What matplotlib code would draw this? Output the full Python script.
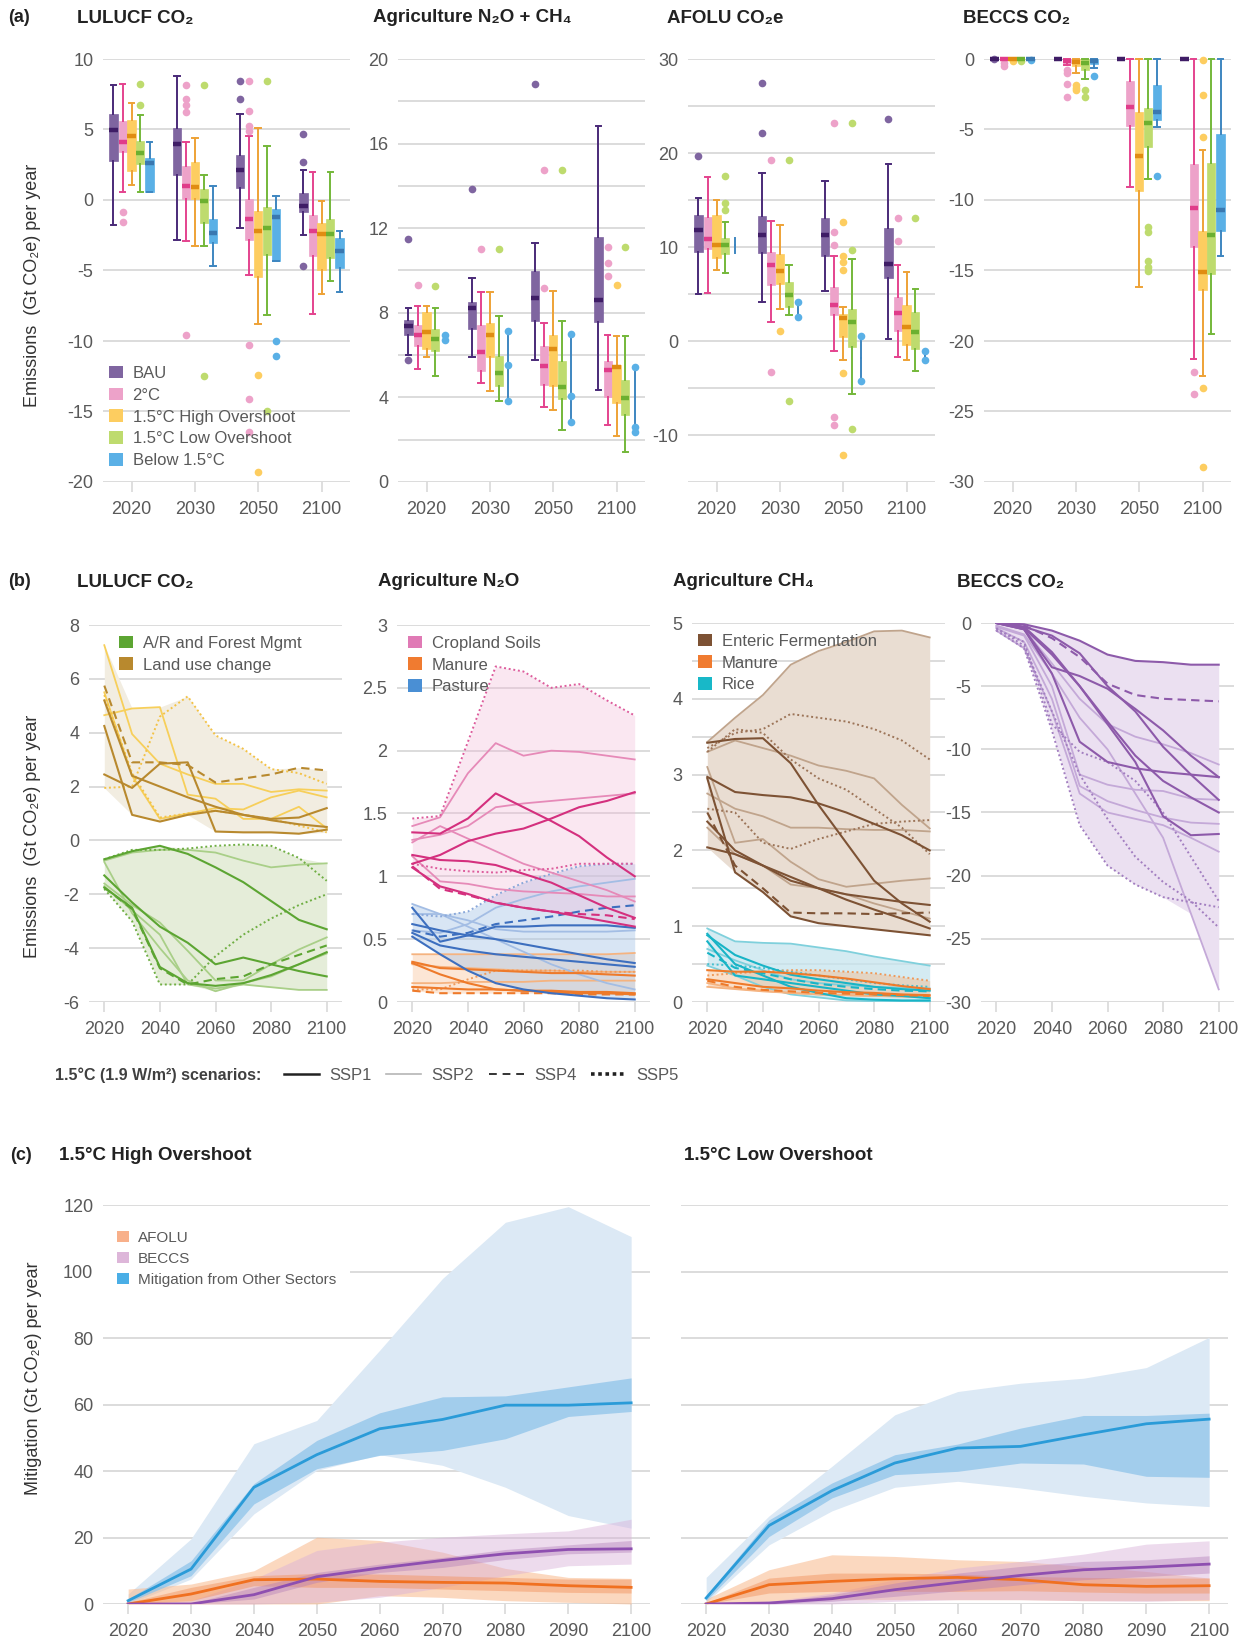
import numpy as np
import matplotlib
matplotlib.use("Agg")
import matplotlib.pyplot as plt
from matplotlib.patches import Patch
from matplotlib.lines import Line2D

plt.rcParams['font.family'] = ['Liberation Sans', 'DejaVu Sans']
plt.rcParams['axes.unicode_minus'] = False

# ---------------- (a) box plots ----------------
box_years = ['2020', '2030', '2050', '2100']
scen_names = ['BAU', '2°C', '1.5°C High Overshoot', '1.5°C Low Overshoot', 'Below 1.5°C']

# per scenario, per year: [low whisker, q1, median, q3, high whisker]
lulucf_stats = [
    [[-1.75, 2.74, 4.94, 6.1, 8.18], [-2.81, 1.8, 4.0, 5.11, 8.82], [-1.99, 0.85, 2.15, 3.21, 6.1], [-2.46, -0.85, -0.45, 0.5, 2.15]],
    [[0.57, 3.38, 4.09, 5.58, 8.2], [-2.93, 0.07, 1.02, 2.39, 4.09], [-5.3, -2.81, -1.32, 0.07, 4.52], [-8.06, -3.95, -2.22, -1.04, 1.96]],
    [[1.09, 2.08, 4.52, 5.7, 6.88], [-3.24, 0.07, 0.92, 2.7, 4.4], [-8.77, -5.48, -2.17, -0.8, 5.11], [-6.64, -4.99, -2.41, -1.63, -0.1]],
    [[0.57, 2.58, 3.33, 4.16, 6.05], [-3.24, -1.63, -0.1, 0.78, 1.8], [-8.13, -3.88, -1.99, -0.52, 3.81], [-5.77, -4.11, -2.41, -1.35, 1.96]],
    [[0.57, 0.57, 2.62, 2.98, 4.09], [-4.7, -3.05, -2.34, -1.35, 0.97], [-4.35, -4.35, -1.23, -0.64, 0.26], [-6.55, -4.82, -3.64, -2.7, -2.2]],
]
lulucf_fliers = [
    [[], [], [8.46, 7.16], [4.7, 2.67, -4.7]],
    [[-0.87, -1.58], [8.18, 7.16, 6.76, 6.22, -9.6], [8.46, 6.34, 5.22, 4.92, -10.26, -14.1, -16.45], []],
    [[], [], [-12.43, -19.3], []],
    [[8.25, 6.76], [8.18, -12.5], [8.46, -15.0], []],
    [[], [], [-9.98, -11.09], []],
]

agri_stats = [
    [[6.02, 6.93, 7.39, 7.64, 8.23], [5.89, 7.23, 8.23, 8.51, 9.65], [5.75, 7.63, 8.7, 9.96, 11.3], [4.37, 7.55, 8.59, 11.58, 16.85]],
    [[5.34, 6.41, 6.93, 7.44, 8.31], [4.68, 5.23, 6.15, 7.44, 8.97], [3.55, 4.6, 5.47, 6.41, 7.52], [2.68, 4.02, 5.28, 5.71, 6.97]],
    [[5.89, 6.29, 7.09, 8.04, 8.31], [4.29, 5.89, 6.93, 7.52, 8.97], [3.42, 4.52, 6.29, 6.97, 9.01], [2.17, 3.74, 5.42, 5.55, 6.89]],
    [[5.03, 6.21, 6.76, 7.23, 8.23], [3.81, 4.52, 5.15, 5.94, 7.83], [2.47, 3.94, 4.49, 5.71, 7.63], [1.4, 3.18, 3.97, 4.84, 6.89]],
    [[6.73, 6.85, 6.85, 6.85, 6.97], [3.85, 5.52, 5.52, 5.52, 7.15], [2.82, 4.05, 4.05, 4.05, 7.0], [2.36, 2.58, 2.58, 2.58, 5.44]],
]
agri_fliers = [
    [[11.49, 5.78], [13.85], [18.83], []],
    [[9.33], [11.02], [14.74, 9.17], [11.11, 10.35, 9.76]],
    [[], [], [], [9.33]],
    [[9.28], [11.02], [14.74], [11.11]],
    [[6.73, 6.97], [7.15, 5.52, 3.85], [7.0, 4.05, 2.82], [5.44, 2.58, 2.36]],
]

afolu_stats = [
    [[4.95, 9.47, 11.78, 13.45, 15.23], [4.2, 9.4, 11.32, 13.27, 17.83], [5.27, 9.0, 11.25, 13.1, 17.0], [0.21, 6.73, 8.22, 12.03, 18.83]],
    [[5.09, 9.82, 10.89, 13.2, 17.47], [2.06, 5.98, 8.11, 9.47, 12.78], [-1.1, 2.81, 3.84, 5.73, 9.0], [-1.74, 1.1, 2.95, 4.66, 8.11]],
    [[7.51, 8.86, 10.25, 13.38, 15.05], [3.42, 6.09, 7.44, 9.29, 12.31], [-1.99, 0.39, 2.42, 2.88, 3.59], [-2.03, -0.39, 1.53, 3.88, 7.33]],
    [[7.22, 9.29, 10.25, 11.0, 12.67], [2.81, 3.59, 4.91, 6.26, 8.11], [-5.66, -0.68, 2.0, 3.42, 8.75], [-3.24, -0.85, 0.99, 3.13, 5.55]],
    [[9.4, 10.2, 10.2, 10.2, 11.0], [2.53, 3.4, 3.4, 3.4, 4.2], [-4.23, -1.8, -1.8, -1.8, 0.57], [-1.99, -1.5, -1.5, -1.5, -1.1]],
]
afolu_fliers = [
    [[19.7], [27.44, 22.1], [], [23.6]],
    [[], [19.25, -3.27], [23.17, 11.6, 10.25, -8.08, -8.93], [13.1, 10.6]],
    [[], [1.03], [12.67, 9.0, 8.4, 7.51, -3.45, -12.14], []],
    [[17.58, 14.7, 13.91], [19.25, -6.37], [23.17, 9.72, -9.32], [13.1]],
    [[], [4.2, 2.53], [0.57, -4.23], [-1.1, -1.99]],
]

beccs_stats = [
    [[0, 0, 0, 0, 0], [0, 0, 0, 0, 0], [0, 0, 0, 0, 0], [0, 0, 0, 0, 0]],
    [[0, 0, 0, 0, 0], [-0.45, -0.29, -0.15, 0, 0], [-9.08, -4.75, -3.42, -1.59, 0], [-21.27, -13.31, -10.58, -7.46, 0]],
    [[0, 0, 0, 0, 0], [-1.0, -0.48, -0.2, 0, 0], [-16.14, -9.39, -6.89, -3.73, 0], [-22.51, -16.38, -15.09, -12.22, -6.47]],
    [[0, 0, 0, 0, 0], [-1.43, -0.76, -0.3, 0, 0], [-8.49, -6.23, -4.56, -3.49, 0], [-19.47, -15.26, -12.46, -7.37, 0]],
    [[0, 0, 0, 0, 0], [-0.64, -0.36, -0.15, 0, 0], [-4.8, -4.33, -3.78, -1.83, 0], [-13.95, -12.22, -10.7, -5.35, 0]],
]
beccs_fliers = [
    [[0], [], [], []],
    [[-0.29, -0.52], [-0.76, -1.0, -1.76, -2.66], [], [-22.22, -23.77]],
    [[-0.17], [-1.83, -2.07, -2.23], [], [-0.05, -2.54, -5.51, -23.34, -28.93]],
    [[-0.17], [-2.19, -2.71], [-11.89, -12.29, -14.31, -14.78, -15.07], []],
    [[-0.05], [-1.19], [-8.32], []],
]

# ---------------- (b) scenario lines ----------------
b_years = [2020, 2030, 2040, 2050, 2060, 2070, 2080, 2090, 2100]

luc_ssp1 = [[4.25, 0.95, 0.7, 0.95, 1.1, 0.95, 0.8, 0.85, 1.2],
            [2.45, 1.95, 2.85, 2.9, 0.33, 0.3, 0.3, 0.25, 0.4],
            [5.2, 2.4, 2.0, 1.6, 1.25, 0.95, 0.75, 0.6, 0.5]]
luc_ssp2 = [[7.25, 3.95, 2.85, 2.45, 2.1, 2.1, 1.8, 1.9, 1.85],
            [4.65, 4.9, 4.95, 1.7, 1.55, 0.8, 0.8, 1.25, 0.45],
            [5.5, 2.4, 0.8, 1.0, 1.2, 1.15, 1.6, 1.85, 1.6]]
luc_ssp4 = [[5.75, 2.9, 2.9, 2.8, 2.15, 2.3, 2.45, 2.7, 2.6]]
luc_ssp5 = [[1.95, 2.0, 4.6, 5.35, 3.9, 3.4, 2.65, 2.5, 2.1],
            [5.4, 2.5, 0.85, 1.0, 1.1, 0.95, 0.8, 0.55, 0.3]]

ar_ssp1 = [[-0.7, -0.4, -0.2, -0.5, -1.0, -1.55, -2.25, -2.95, -3.3],
           [-1.3, -2.3, -3.2, -3.8, -4.6, -4.35, -4.6, -4.85, -5.05],
           [-1.75, -2.5, -4.7, -5.3, -5.4, -5.3, -5.0, -4.6, -4.15]]
ar_ssp2 = [[-0.75, -0.45, -0.35, -0.35, -0.45, -0.75, -1.0, -0.9, -0.85],
           [-1.6, -2.4, -3.05, -4.1, -5.2, -5.2, -4.6, -4.05, -3.6],
           [-1.7, -2.6, -3.5, -5.35, -5.5, -5.35, -5.45, -5.55, -5.55],
           [-0.8, -2.7, -4.0, -5.2, -5.6, -5.3, -5.05, -4.6, -4.2]]
ar_ssp4 = [[-1.75, -2.55, -4.75, -5.35, -5.15, -5.05, -4.6, -4.25, -3.9]]
ar_ssp5 = [[-0.7, -0.35, -0.35, -0.3, -0.2, -0.15, -0.2, -0.65, -1.5],
           [-1.8, -3.0, -5.35, -5.35, -4.3, -3.5, -2.9, -2.4, -2.0]]

crop_ssp1 = [[1.35, 1.34, 1.46, 1.66, 1.55, 1.44, 1.32, 1.15, 1.0],
             [1.1, 1.17, 1.28, 1.34, 1.38, 1.46, 1.55, 1.6, 1.67],
             [1.17, 1.13, 1.12, 1.09, 1.02, 0.95, 0.85, 0.75, 0.67],
             [1.07, 0.92, 0.86, 0.79, 0.75, 0.72, 0.68, 0.64, 0.6]]
crop_ssp2 = [[1.4, 1.47, 1.82, 2.06, 1.96, 2.0, 1.99, 1.96, 1.93],
             [1.29, 1.33, 1.4, 1.55, 1.58, 1.6, 1.62, 1.64, 1.66],
             [1.27, 1.4, 1.3, 1.2, 1.1, 1.03, 0.96, 0.89, 0.8],
             [1.16, 0.96, 0.94, 0.9, 0.88, 0.87, 0.86, 0.84, 0.84]]
crop_ssp4 = [[1.08, 0.9, 0.85, 0.79, 0.75, 0.72, 0.7, 0.69, 0.66]]
crop_ssp5 = [[1.46, 1.48, 2.07, 2.67, 2.63, 2.5, 2.53, 2.4, 2.28],
             [1.1, 1.06, 1.04, 1.03, 1.05, 1.06, 1.1, 1.1, 1.1]]

past_ssp1 = [[0.75, 0.48, 0.53, 0.6, 0.6, 0.61, 0.61, 0.61, 0.59],
             [0.62, 0.57, 0.53, 0.5, 0.46, 0.42, 0.38, 0.34, 0.31],
             [0.55, 0.45, 0.41, 0.38, 0.36, 0.34, 0.32, 0.3, 0.28],
             [0.52, 0.38, 0.25, 0.15, 0.1, 0.07, 0.05, 0.03, 0.02]]
past_ssp2 = [[0.78, 0.7, 0.6, 0.5, 0.4, 0.3, 0.22, 0.15, 0.1],
             [0.7, 0.7, 0.65, 0.58, 0.56, 0.56, 0.56, 0.56, 0.57],
             [0.57, 0.55, 0.62, 0.75, 0.82, 0.88, 0.92, 0.95, 0.98]]
past_ssp4 = [[0.57, 0.52, 0.55, 0.62, 0.65, 0.68, 0.72, 0.75, 0.77]]
past_ssp5 = [[0.7, 0.68, 0.72, 0.85, 0.95, 1.02, 1.08, 1.1, 1.1]]

mann_ssp1 = [[0.32, 0.27, 0.26, 0.25, 0.24, 0.23, 0.23, 0.22, 0.21],
             [0.31, 0.22, 0.15, 0.1, 0.09, 0.08, 0.07, 0.07, 0.06],
             [0.12, 0.11, 0.1, 0.1, 0.09, 0.09, 0.08, 0.08, 0.07]]
mann_ssp2 = [[0.38, 0.38, 0.38, 0.38, 0.38, 0.38, 0.38, 0.38, 0.39],
             [0.15, 0.15, 0.16, 0.16, 0.16, 0.17, 0.17, 0.17, 0.17],
             [0.3, 0.28, 0.27, 0.26, 0.25, 0.25, 0.24, 0.24, 0.24]]
mann_ssp4 = [[0.09, 0.07, 0.07, 0.07, 0.07, 0.07, 0.06, 0.06, 0.06]]
mann_ssp5 = [[0.1, 0.1, 0.18, 0.25, 0.25, 0.25, 0.25, 0.24, 0.24]]

ent_ssp1 = [[3.42, 3.47, 3.48, 3.15, 2.6, 2.1, 1.6, 1.3, 1.06],
            [2.97, 2.77, 2.73, 2.7, 2.62, 2.5, 2.35, 2.2, 2.0],
            [2.95, 1.71, 1.45, 1.13, 1.04, 1.0, 0.96, 0.92, 0.88],
            [2.38, 2.0, 1.8, 1.6, 1.5, 1.42, 1.37, 1.32, 1.28],
            [2.04, 1.95, 1.8, 1.65, 1.5, 1.35, 1.22, 1.1, 0.97]]
ent_ssp2 = [[3.43, 3.75, 4.05, 4.45, 4.63, 4.75, 4.89, 4.9, 4.81],
            [3.3, 3.45, 3.35, 3.25, 3.12, 3.05, 2.95, 2.6, 2.29],
            [2.75, 2.55, 2.45, 2.3, 2.3, 2.28, 2.27, 2.27, 2.25],
            [3.1, 2.1, 2.15, 1.85, 1.62, 1.52, 1.56, 1.6, 1.63],
            [2.3, 1.95, 1.8, 1.55, 1.5, 1.42, 1.3, 1.2, 1.1]]
ent_ssp4 = [[2.5, 1.8, 1.5, 1.18, 1.17, 1.17, 1.16, 1.17, 1.18]]
ent_ssp5 = [[3.35, 3.55, 3.6, 3.8, 3.75, 3.7, 3.6, 3.45, 3.2],
            [3.3, 3.6, 3.55, 3.2, 2.95, 2.8, 2.55, 2.3, 1.95],
            [2.55, 2.5, 2.1, 2.02, 2.15, 2.25, 2.35, 2.38, 2.4]]

rice_ssp1 = [[0.88, 0.62, 0.48, 0.36, 0.3, 0.25, 0.2, 0.17, 0.15],
             [0.8, 0.35, 0.3, 0.25, 0.2, 0.15, 0.1, 0.08, 0.05],
             [0.9, 0.5, 0.35, 0.2, 0.12, 0.05, 0.03, 0.02, 0.02]]
rice_ssp2 = [[0.97, 0.8, 0.78, 0.77, 0.72, 0.67, 0.6, 0.54, 0.48],
             [0.7, 0.55, 0.42, 0.3, 0.25, 0.22, 0.2, 0.19, 0.18],
             [0.48, 0.35, 0.2, 0.1, 0.06, 0.02, 0.01, 0.01, 0.0]]
rice_ssp4 = [[0.65, 0.45, 0.38, 0.3, 0.24, 0.2, 0.17, 0.15, 0.14]]
rice_ssp5 = [[0.5, 0.48, 0.45, 0.4, 0.35, 0.3, 0.25, 0.22, 0.2]]

manc_ssp1 = [[0.42, 0.4, 0.4, 0.38, 0.35, 0.31, 0.26, 0.21, 0.17],
             [0.3, 0.25, 0.2, 0.18, 0.15, 0.13, 0.12, 0.1, 0.09]]
manc_ssp2 = [[0.25, 0.18, 0.15, 0.12, 0.1, 0.09, 0.08, 0.07, 0.06],
             [0.2, 0.17, 0.14, 0.12, 0.1, 0.09, 0.08, 0.08, 0.07]]
manc_ssp4 = [[0.28, 0.2, 0.16, 0.14, 0.12, 0.11, 0.1, 0.09, 0.08]]
manc_ssp5 = [[0.35, 0.38, 0.4, 0.42, 0.42, 0.4, 0.38, 0.33, 0.28]]

bec_ssp1 = [[0, -0.1, -0.6, -1.4, -2.5, -3.0, -3.1, -3.3, -3.3],
            [0, -0.3, -1.0, -2.4, -5.0, -7.0, -9.8, -12.0, -14.0],
            [0, -0.5, -3.5, -4.2, -5.2, -6.8, -8.5, -10.5, -12.2],
            [0, -0.4, -2.5, -5.0, -8.0, -11.0, -15.3, -16.8, -16.7],
            [0, -0.5, -4.0, -9.4, -11.0, -11.5, -11.8, -12.0, -12.2],
            [0, -0.3, -2.3, -5.0, -7.8, -10.5, -12.5, -13.8, -15.0]]
bec_ssp2 = [[0, -0.5, -3.2, -6.0, -8.0, -9.0, -9.6, -10.3, -11.2],
            [-0.3, -1.0, -5.0, -12.0, -12.8, -13.2, -13.3, -13.9, -14.0],
            [-0.4, -1.5, -6.0, -12.9, -14.1, -14.8, -15.4, -15.8, -15.9],
            [-0.6, -2.0, -7.0, -13.5, -15.0, -15.5, -16.0, -17.0, -18.1],
            [-0.2, -0.9, -4.0, -7.5, -10.0, -13.5, -17.0, -23.0, -29.0]]
bec_ssp4 = [[0, -0.2, -1.2, -2.7, -4.8, -5.7, -6.0, -6.1, -6.2]]
bec_ssp5 = [[-0.5, -1.5, -8.0, -10.2, -11.0, -12.5, -15.0, -18.5, -22.0],
            [-0.6, -2.0, -8.5, -16.0, -19.2, -20.7, -21.7, -22.1, -22.5],
            [-0.4, -1.8, -7.0, -12.0, -15.5, -18.5, -20.5, -22.0, -24.1]]

# ---------------- (c) mitigation bands ----------------
c_years = [2020, 2030, 2040, 2050, 2060, 2070, 2080, 2090, 2100]

hi_oth_med = [1.0, 10.5, 35.1, 44.9, 52.7, 55.5, 59.8, 59.8, 60.5]
hi_oth_q1 = [0.5, 8.5, 30.1, 40.7, 44.7, 46.2, 49.7, 56.4, 57.9]
hi_oth_q3 = [1.5, 13.0, 36.2, 49.2, 57.5, 62.3, 62.6, 65.3, 68.0]
hi_oth_min = [0, 7.5, 27.1, 40.2, 44.9, 41.7, 35.1, 26.6, 22.8]
hi_oth_max = [3.0, 19.6, 48.2, 55.2, 76.3, 97.9, 114.8, 119.5, 110.5]
hi_afo_med = [0, 3.0, 7.3, 7.5, 6.8, 6.5, 6.3, 5.5, 5.0]
hi_afo_q1 = [0, 1.0, 5.5, 5.0, 5.0, 4.5, 4.0, 3.5, 3.3]
hi_afo_q3 = [0.5, 5.0, 8.5, 9.2, 9.0, 8.5, 8.0, 7.5, 7.5]
hi_afo_min = [0, 0, 0, 0, 2.5, 2.0, 1.0, 0.5, 0]
hi_afo_max = [4.5, 6.0, 10.0, 20.1, 19.1, 15.6, 10.7, 8.0, 7.7]
hi_bec_med = [0, 0, 2.8, 8.2, 10.8, 13.1, 15.1, 16.4, 16.6]
hi_bec_q1 = [0, 0, 1.5, 6.5, 9.5, 11.0, 13.4, 15.1, 15.6]
hi_bec_q3 = [0, 0.2, 5.0, 9.5, 12.0, 14.0, 16.4, 17.8, 19.1]
hi_bec_min = [0, 0, 0, 0.5, 2.0, 5.0, 8.5, 11.5, 12.0]
hi_bec_max = [0, 1.0, 7.5, 16.1, 18.6, 20.1, 21.1, 22.0, 25.5]

lo_oth_med = [1.8, 23.6, 34.1, 42.4, 46.9, 47.4, 50.9, 54.2, 55.6]
lo_oth_q1 = [1.0, 20.3, 31.9, 38.9, 39.9, 42.4, 42.1, 38.4, 38.1]
lo_oth_q3 = [2.5, 25.3, 36.4, 44.9, 48.1, 52.9, 56.7, 56.7, 57.4]
lo_oth_min = [0.5, 17.8, 28.0, 35.1, 36.9, 34.9, 32.4, 30.4, 29.3]
lo_oth_max = [8.0, 26.5, 41.4, 56.9, 63.9, 66.4, 67.9, 71.1, 80.2]
lo_afo_med = [0, 5.8, 6.8, 7.6, 8.0, 7.3, 5.8, 5.3, 5.5]
lo_afo_q1 = [0, 3.3, 3.8, 3.8, 3.8, 4.0, 3.6, 3.3, 3.3]
lo_afo_q3 = [0.3, 7.8, 9.3, 9.3, 9.0, 8.3, 8.0, 7.8, 7.8]
lo_afo_min = [0, 0.8, 1.3, 1.3, 1.3, 1.3, 1.0, 1.0, 1.0]
lo_afo_max = [1.5, 10.3, 14.8, 14.3, 13.3, 12.8, 11.3, 9.8, 7.8]
lo_bec_med = [0, 0.3, 1.6, 4.3, 6.5, 8.6, 10.3, 11.1, 12.0]
lo_bec_q1 = [0, 0, 0.8, 2.3, 4.0, 5.8, 7.3, 8.3, 9.3]
lo_bec_q3 = [0, 0.5, 2.8, 6.3, 9.3, 11.3, 12.8, 13.3, 14.5]
lo_bec_min = [0, 0, 0, 0.8, 1.3, 1.3, 1.0, 0.8, 1.3]
lo_bec_max = [0, 0.8, 3.3, 7.3, 10.8, 12.8, 15.0, 18.0, 19.0]

# ---------------- figure ----------------
W, H = 1250, 1642
fig = plt.figure(figsize=(W / 100, H / 100), dpi=100)

GRID = '#d9d9d9'
TXT = '#595959'


def add_ax(x0, y0, x1, y1):
    return fig.add_axes([x0 / W, 1 - y1 / H, (x1 - x0) / W, (y1 - y0) / H])


def ftext(x, y, s, **kw):
    fig.text(x / W, 1 - y / H, s, va='center', **kw)


def base_style(ax):
    for s in ax.spines.values():
        s.set_visible(False)
    ax.set_axisbelow(True)
    ax.grid(axis='y', which='both', color=GRID, lw=1.3)
    ax.tick_params(axis='y', which='both', length=0, labelsize=13, labelcolor=TXT, pad=7)
    ax.tick_params(axis='x', length=7, width=1.2, color=GRID, labelsize=13, labelcolor=TXT, pad=6.5)


def patch_legend(ax, colors, labels, anchor, **kw):
    opts = dict(loc='upper left', bbox_to_anchor=anchor, frameon=False, fontsize=12,
                handlelength=0.8, handleheight=0.8, handletextpad=0.6, labelspacing=0.4,
                borderpad=0, borderaxespad=0, labelcolor=TXT)
    opts.update(kw)
    return ax.legend([Patch(facecolor=c, edgecolor='none') for c in colors], labels, **opts)


scen_fill = ['#7f65a0', '#eda2c9', '#fdcd60', '#bedb6e', '#5ab0e6']
scen_line = ['#4a2a78', '#e4438e', '#eea236', '#74b83a', '#3e86c0']
scen_med = ['#3f1d66', '#e03c8a', '#e08c12', '#6cb030', '#3a78b0']
offsets = [-0.285, -0.14, 0.0, 0.14, 0.285]


def draw_boxes(ax, stats, fliers, dots_only=()):
    for i in range(5):
        bst = [dict(whislo=s[0], q1=s[1], med=s[2], q3=s[3], whishi=s[4], fliers=f)
               for s, f in zip(stats[i], fliers[i])]
        plain = i in dots_only
        ax.bxp(bst, positions=np.arange(4) + offsets[i], widths=0.13,
               patch_artist=True, manage_ticks=False,
               showbox=not plain, showcaps=not plain, capwidths=0.09,
               boxprops=dict(facecolor=scen_fill[i], edgecolor=scen_fill[i], lw=0.5, clip_on=False),
               whiskerprops=dict(color=scen_line[i], lw=1.4, clip_on=False),
               capprops=dict(color=scen_line[i], lw=1.4, clip_on=False),
               medianprops=dict(color=scen_med[i], lw=3.2, solid_capstyle='butt',
                                clip_on=False, visible=not plain),
               flierprops=dict(marker='o', markersize=5.5, markerfacecolor=scen_fill[i],
                               markeredgecolor='none', clip_on=False))


# ---- (a)
a_lefts = [103, 398, 688, 984]
a_titles = ['LULUCF CO₂', 'Agriculture N₂O + CH₄', 'AFOLU CO₂e', 'BECCS CO₂']
a_data = [(lulucf_stats, lulucf_fliers, ()), (agri_stats, agri_fliers, (4,)),
          (afolu_stats, afolu_fliers, (4,)), (beccs_stats, beccs_fliers, ())]
a_ylims = [(-20, 10), (0, 20), (-15, 30), (-30, 0)]
a_major = [range(-20, 11, 5), range(0, 21, 4), range(-10, 31, 10), range(-30, 1, 5)]
a_minor = [[], range(2, 19, 4), range(-15, 26, 10), []]
a_title_x = [77, 373, 667, 963]

for k in range(4):
    ax = add_ax(a_lefts[k], 59, a_lefts[k] + 247, 482)
    base_style(ax)
    st, fl, dots = a_data[k]
    draw_boxes(ax, st, fl, dots)
    ax.set_xlim(-0.45, 3.45)
    ax.set_ylim(*a_ylims[k])
    ax.set_yticks(list(a_major[k]))
    ax.set_yticks(list(a_minor[k]), minor=True)
    ax.set_xticks(range(4), box_years)
    ftext(a_title_x[k], 18, a_titles[k], fontsize=13.5, fontweight='bold', color='#222')
    if k == 0:
        patch_legend(ax, scen_fill, scen_names, (0.025, 0.275))

ftext(8, 18, '(a)', fontsize=13, fontweight='bold', color='#222')
fig.text(33 / W, 1 - 285 / H, 'Emissions  (Gt CO₂e) per year', rotation=90,
         ha='center', va='center', fontsize=13, color='#333')

# ---- (b)


def draw_group(ax, ssp1, ssp2, ssp4, ssp5, dark, light, dot, env, env_alpha):
    allser = np.array(ssp1 + ssp2 + ssp4 + ssp5)
    ax.fill_between(b_years, allser.min(0), allser.max(0), color=env, alpha=env_alpha, lw=0, zorder=1)
    for s in ssp2:
        ax.plot(b_years, s, color=light, lw=1.3, zorder=2)
    for s in ssp5:
        ax.plot(b_years, s, color=dot, lw=1.4, ls=(0, (1, 1.4)), zorder=2)
    for s in ssp4:
        ax.plot(b_years, s, color=dark, lw=1.5, ls=(0, (4, 2.5)), zorder=3)
    for s in ssp1:
        ax.plot(b_years, s, color=dark, lw=1.5, zorder=3)


b_lefts = [89, 397, 692, 981]
b_axes = []
for k in range(4):
    top = 623 if k >= 2 else 625
    ax = add_ax(b_lefts[k], top, b_lefts[k] + 253, 1002)
    base_style(ax)
    ax.set_xlim(2014.5, 2105.5)
    ax.set_xticks([2020, 2040, 2060, 2080, 2100])
    b_axes.append(ax)

ax = b_axes[0]
draw_group(ax, luc_ssp1, luc_ssp2, luc_ssp4, luc_ssp5, '#b8892e', '#f7cf5a', '#f3c246', '#f2ede1', 1.0)
draw_group(ax, ar_ssp1, ar_ssp2, ar_ssp4, ar_ssp5, '#5ca532', '#a9cf88', '#6fae43', '#e5edd9', 1.0)
ax.set_ylim(-6, 8)
ax.set_yticks(range(-6, 9, 2))
patch_legend(ax, ['#5ca532', '#b8892e'], ['A/R and Forest Mgmt', 'Land use change'], (0.12, 0.972))

ax = b_axes[1]
draw_group(ax, mann_ssp1, mann_ssp2, mann_ssp4, mann_ssp5, '#ee7a2a', '#f5b380', '#f09a5a', '#f9c9a2', 0.45)
draw_group(ax, past_ssp1, past_ssp2, past_ssp4, past_ssp5, '#3d6fbf', '#a3bde4', '#8aa8da', '#a9c6e8', 0.45)
draw_group(ax, crop_ssp1, crop_ssp2, crop_ssp4, crop_ssp5, '#d4307e', '#e68ab8', '#dd5c9c', '#f2b6d6', 0.32)
ax.set_ylim(0, 3)
ax.set_yticks([0, 0.5, 1, 1.5, 2, 2.5, 3], ['0', '0.5', '1', '1.5', '2', '2.5', '3'])
patch_legend(ax, ['#e07ab5', '#f07b30', '#4a8fd4'], ['Cropland Soils', 'Manure', 'Pasture'], (0.045, 0.972))

ax = b_axes[2]
draw_group(ax, ent_ssp1, ent_ssp2, ent_ssp4, ent_ssp5, '#7d5234', '#c0a48c', '#9c7458', '#e9ddd2', 1.0)
draw_group(ax, rice_ssp1, rice_ssp2, rice_ssp4, rice_ssp5, '#18b4c6', '#7fd0dc', '#46c0d0', '#c6e5ee', 0.75)
draw_group(ax, manc_ssp1, manc_ssp2, manc_ssp4, manc_ssp5, '#ee7a2a', '#f5b380', '#f09a5a', '#f6b88a', 0.45)
ax.set_ylim(0, 5)
ax.set_yticks(range(0, 6))
ax.set_yticks(np.arange(0.5, 5, 1.0), minor=True)
patch_legend(ax, ['#7d5234', '#f07b30', '#18b8c8'], ['Enteric Fermentation', 'Manure', 'Rice'], (0.025, 0.972))

ax = b_axes[3]
draw_group(ax, bec_ssp1, bec_ssp2, bec_ssp4, bec_ssp5, '#8d5aaa', '#c4a9d8', '#a27ec0', '#ebe0f1', 1.0)
ax.set_ylim(-30, 0)
ax.set_yticks(range(-30, 1, 5))

b_titles = ['LULUCF CO₂', 'Agriculture N₂O', 'Agriculture CH₄', 'BECCS CO₂']
for x, t in zip([77, 378, 673, 957], b_titles):
    ftext(x, 582, t, fontsize=13.5, fontweight='bold', color='#222')
ftext(8, 582, '(b)', fontsize=13, fontweight='bold', color='#222')
fig.text(33 / W, 1 - 836 / H, 'Emissions  (Gt CO₂e) per year', rotation=90,
         ha='center', va='center', fontsize=13, color='#333')

# SSP line-style legend
ftext(55, 1075, '1.5°C (1.9 W/m²) scenarios:', fontsize=11.5, fontweight='bold', color='#404040')
ssp_handles = [Line2D([], [], color='#222', lw=1.8),
               Line2D([], [], color='#b5b5b5', lw=1.2),
               Line2D([], [], color='#333', lw=1.4, ls=(0, (4, 3))),
               Line2D([], [], color='#222', lw=2.6, ls=(0, (1, 1)))]
fig.legend(ssp_handles, ['SSP1', 'SSP2', 'SSP4', 'SSP5'], loc='center left',
           bbox_to_anchor=(284 / W, 1 - 1075 / H), ncol=4, frameon=False, fontsize=12,
           handlelength=2.1, handletextpad=0.6, columnspacing=0.9, labelcolor=TXT,
           borderpad=0, borderaxespad=0)

# ---- (c)


def draw_band(ax, lo, hi, q1, q3, med, outer, inner, line, a_out, a_in, stage):
    if stage == 0:
        ax.fill_between(c_years, lo, hi, color=outer, alpha=a_out, lw=0, zorder=1)
    elif stage == 1:
        ax.fill_between(c_years, q1, q3, color=inner, alpha=a_in, lw=0, zorder=2)
    else:
        ax.plot(c_years, med, color=line, lw=2.0, zorder=3)


c_sets = [
    [(hi_oth_min, hi_oth_max, hi_oth_q1, hi_oth_q3, hi_oth_med),
     (hi_afo_min, hi_afo_max, hi_afo_q1, hi_afo_q3, hi_afo_med),
     (hi_bec_min, hi_bec_max, hi_bec_q1, hi_bec_q3, hi_bec_med)],
    [(lo_oth_min, lo_oth_max, lo_oth_q1, lo_oth_q3, lo_oth_med),
     (lo_afo_min, lo_afo_max, lo_afo_q1, lo_afo_q3, lo_afo_med),
     (lo_bec_min, lo_bec_max, lo_bec_q1, lo_bec_q3, lo_bec_med)],
]
c_cols = [('#dce9f5', '#8fc4ea', '#2a9bd8', 1.0, 0.75),
          ('#f9b88c', '#f2905a', '#f07020', 0.55, 0.45),
          ('#d9b0d9', '#b07ab8', '#8e4fb0', 0.45, 0.4)]

c_axes = [add_ax(103, 1205, 650, 1604), add_ax(681, 1205, 1228, 1604)]
for k, ax in enumerate(c_axes):
    base_style(ax)
    for stage in range(3):
        for series, cols in zip(c_sets[k], c_cols):
            draw_band(ax, *series, *cols, stage)
    ax.set_xlim(2016, 2103)
    ax.set_ylim(0, 120)
    ax.set_yticks(range(0, 121, 20))
    ax.set_xticks(range(2020, 2101, 10))
    if k == 1:
        ax.set_yticklabels([])

leg = patch_legend(c_axes[0], ['#f8b08a', '#ddb6d9', '#4aaee6'],
                   ['AFOLU', 'BECCS', 'Mitigation from Other Sectors'], (0.0, 0.97),
                   frameon=True, facecolor='white', edgecolor='none', framealpha=1,
                   fontsize=11, labelspacing=0.45, borderpad=0.9)
leg.get_frame().set_boxstyle('square', pad=0)

ftext(10, 1155, '(c)', fontsize=13, fontweight='bold', color='#222')
ftext(59, 1155, '1.5°C High Overshoot', fontsize=13.5, fontweight='bold', color='#222')
ftext(684, 1155, '1.5°C Low Overshoot', fontsize=13.5, fontweight='bold', color='#222')
fig.text(34 / W, 1 - 1378 / H, 'Mitigation (Gt CO₂e) per year', rotation=90,
         ha='center', va='center', fontsize=13, color='#333')

fig.savefig('out.png', dpi=100, facecolor='white')
